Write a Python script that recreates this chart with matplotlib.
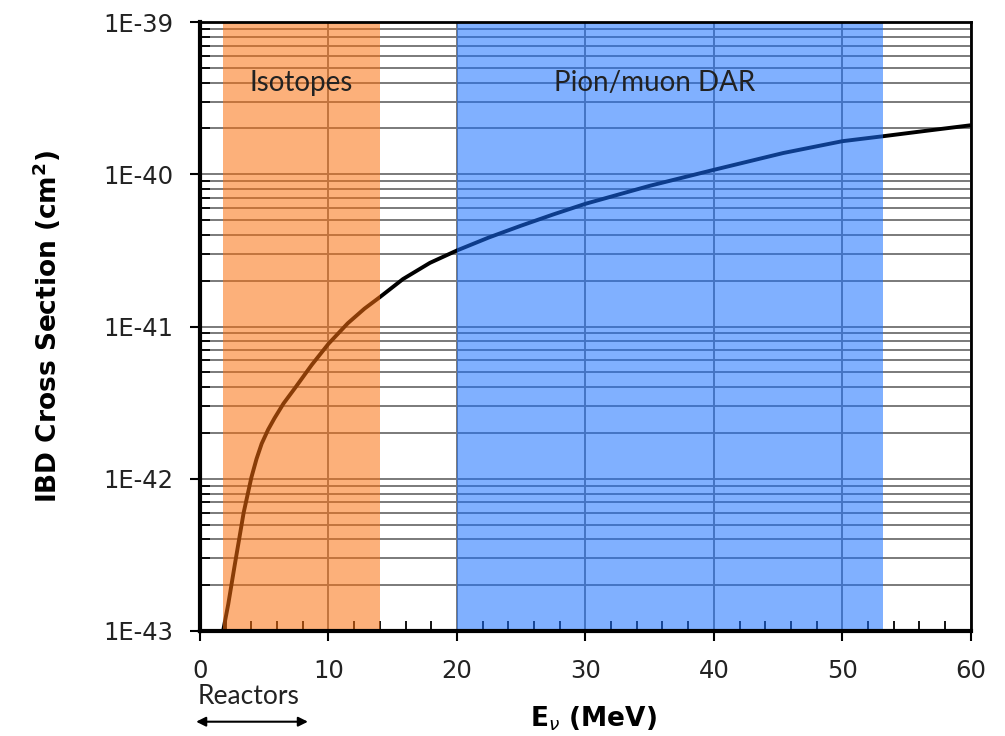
import matplotlib
matplotlib.use("Agg")
import matplotlib.pyplot as plt
from matplotlib.ticker import MultipleLocator, LogLocator, FixedFormatter, FixedLocator

# neutrino energy (MeV) and IBD cross section (cm^2)
energy = [1.8, 2.2, 2.7, 3.0, 3.4, 4.0, 4.4, 4.8, 5.3, 5.8, 6.5, 7.4, 8.7,
          10.0, 11.5, 12.8, 14.0, 15.8, 17.9, 20.0, 22.5, 25.0, 27.5, 30.0,
          35.0, 40.0, 45.4, 50.0, 53.2, 56.5, 60.0]
xsec = [1.0e-43, 1.5e-43, 2.7e-43, 3.8e-43, 6.0e-43, 1.02e-42, 1.35e-42,
        1.70e-42, 2.1e-42, 2.5e-42, 3.12e-42, 3.95e-42, 5.6e-42, 7.7e-42,
        1.05e-41, 1.31e-41, 1.56e-41, 2.05e-41, 2.62e-41, 3.16e-41, 3.85e-41,
        4.6e-41, 5.45e-41, 6.4e-41, 8.4e-41, 1.07e-40, 1.38e-40, 1.65e-40,
        1.78e-40, 1.93e-40, 2.1e-40]

# shaded energy ranges
band_names = ["Isotopes", "Pion/muon DAR"]
band_ranges = [(1.8, 14.0), (20.0, 53.2)]
band_colors = ["#fb6f0d", "#186fff"]

y_ticks = [1e-43, 1e-42, 1e-41, 1e-40, 1e-39]
y_tick_labels = ["1E-43", "1E-42", "1E-41", "1E-40", "1E-39"]

fig = plt.figure(figsize=(10.05, 7.36), dpi=100)
ax = fig.add_axes([0.199, 0.1427, 0.767, 0.8273])

ax.plot(energy, xsec, color="black", lw=2.8, zorder=2,
        solid_capstyle="butt", solid_joinstyle="round")

for (lo, hi), c in zip(band_ranges, band_colors):
    ax.axvspan(lo, hi, color=c, alpha=0.55, lw=0, zorder=2.2)

ax.set_yscale("log")
ax.set_xlim(0, 60)
ax.set_ylim(1e-43, 1e-39)

ax.xaxis.set_major_locator(MultipleLocator(10))
ax.xaxis.set_minor_locator(MultipleLocator(2))
ax.yaxis.set_major_locator(FixedLocator(y_ticks))
ax.yaxis.set_major_formatter(FixedFormatter(y_tick_labels))
ax.yaxis.set_minor_locator(LogLocator(base=10, subs=range(2, 10), numticks=20))

ax.set_axisbelow(True)
ax.grid(axis="x", which="major", color="#707070", lw=1.3)
ax.grid(axis="y", which="both", color="#7a7a7a", lw=1.4)

ax.tick_params(which="major", direction="out", length=7, width=1.5,
               labelsize=17.5, colors="black", labelcolor="#222222")
ax.tick_params(axis="y", which="major", pad=12)
ax.tick_params(axis="x", which="major", pad=13)
ax.tick_params(which="minor", direction="in", length=7, width=1.3)

for side in ["left", "bottom"]:
    ax.spines[side].set_linewidth(3)
for side in ["top", "right"]:
    ax.spines[side].set_linewidth(2)

ax.set_ylabel("IBD Cross Section (cm$^\\mathbf{2}$)", fontsize=19,
              fontweight="bold")
ax.set_xlabel("E$_\\nu$ (MeV)", fontsize=19, fontweight="bold")
ax.xaxis.set_label_coords(0.51, -0.12)
ax.yaxis.set_label_coords(-0.178, 0.5)

ax.text(7.9, 4.0e-40, band_names[0], fontsize=20, family="Lato",
        color="#222222", ha="center", va="center", zorder=4)
ax.text(35.4, 4.0e-40, band_names[1], fontsize=20, family="Lato",
        color="#222222", ha="center", va="center", zorder=4)

# reactors range under the x axis
trans = ax.get_xaxis_transform()
ax.text(-0.2, -0.108, "Reactors", fontsize=19, family="Lato",
        color="#222222", ha="left", va="center", transform=trans,
        clip_on=False)
ax.annotate("", xy=(-0.3, -0.149), xytext=(8.4, -0.149),
            xycoords=trans, annotation_clip=False,
            arrowprops=dict(arrowstyle="<|-|>", color="black", lw=1.5,
                            mutation_scale=14, shrinkA=0, shrinkB=0))

fig.savefig("out.png", dpi=100)
